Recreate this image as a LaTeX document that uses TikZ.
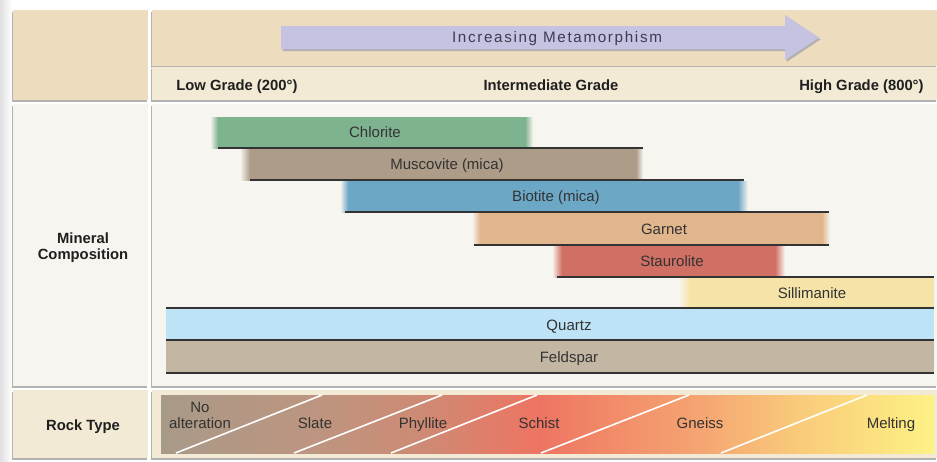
\documentclass[tikz,border=0pt]{standalone}
\usepackage{fontspec}
\setmainfont{Liberation Sans}
\usepackage{tikz}

\definecolor{tanbg}{HTML}{EEDCBF}
\definecolor{creambg}{HTML}{F2EAD5}
\definecolor{midbg}{HTML}{F7F5F0}
\definecolor{chlcol}{HTML}{7EB38F}
\definecolor{muscol}{HTML}{AC9C88}
\definecolor{biocol}{HTML}{6DA7C6}
\definecolor{garcol}{HTML}{E2B68D}
\definecolor{staucol}{HTML}{D06F64}
\definecolor{silcol}{HTML}{F5E3A8}
\definecolor{qtzcol}{HTML}{BEE3F6}
\definecolor{fdscol}{HTML}{C3B7A3}
\definecolor{arrowcol}{HTML}{C6C2E2}
\definecolor{txtgray}{HTML}{333333}
\definecolor{arrowtxt}{HTML}{3C3C50}
\definecolor{rk1}{HTML}{A89A88}
\definecolor{rk2}{HTML}{BD9580}
\definecolor{rk3}{HTML}{CE8A74}
\definecolor{rk4}{HTML}{EE7462}
\definecolor{rk5}{HTML}{F18868}
\definecolor{rk6}{HTML}{F5A572}
\definecolor{rk7}{HTML}{F9CB7A}
\definecolor{rk8}{HTML}{FDF285}

\pgfdeclarehorizontalshading{rockgrad}{100bp}{color(0bp)=(rk1); color(25bp)=(rk1); color(35bp)=(rk2); color(42bp)=(rk3); color(49.5bp)=(rk4); color(53.4bp)=(rk5); color(59.9bp)=(rk6); color(66.3bp)=(rk7); color(75bp)=(rk8); color(100bp)=(rk8)}

\begin{document}
\begin{tikzpicture}[x=0.5pt, y=-0.5pt,
	lbl/.style={text=txtgray, font=\fontsize{7.5}{8}\selectfont, inner sep=0pt, text height=5.3pt, text depth=0pt},
	hdr/.style={text=black!88, font=\fontsize{7.4}{8}\selectfont\bfseries, inner sep=0pt, text height=5.3pt, text depth=0pt},
	twoline/.style={align=center, inner sep=0pt},
	rim/.style={draw=black!80, line width=0.7pt}]

	\useasboundingbox (0,0) rectangle (937,461);
	\fill[white] (0,0) rectangle (937,461);
	\shade[left color=black!12, right color=white] (0,0) rectangle (12,461);

	% panels
	\foreach \xa/\ya/\xb/\yb/\col in {13/10/148/100/tanbg, 152/10/937/66/tanbg, 152/67/937/100/creambg, 13/104/148/386/midbg, 152/104/937/386/midbg, 13/390/148/458/creambg, 152/390/937/458/creambg}{
		\fill[black!30] (\xa-1.5,\ya+1.5) rectangle (\xb-1.5,\yb+1.5);
		\fill[\col] (\xa,\ya) rectangle (\xb,\yb);
	}

	% arrow
	\foreach \dx/\dy/\col in {1.5/2/black!30, 0/0/arrowcol}
		\fill[\col, shift={(\dx,\dy)}] (281,26) -- (785,26) -- (785,15) -- (819,37.5) -- (785,60) -- (785,49) -- (281,49) -- cycle;
	\node[lbl, text=arrowtxt, font={\fontsize{7.6}{8}\selectfont\addfontfeature{LetterSpace=11}}] (metatext) at (557,37.5) {Increasing Metamorphism};

	\node[hdr, anchor=west] (lowgrade) at (176,85) {Low Grade (200°)};
	\node[hdr] (midgrade) at (551,85) {Intermediate Grade};
	\node[hdr, anchor=east] (highgrade) at (924,85) {High Grade (800°)};

	\node[twoline, text=black!88, font=\fontsize{7.4}{8}\selectfont\bfseries] (mineral) at (83,248) {Mineral\\Composition};
	\node[hdr] (rocktype) at (83,425) {Rock Type};

	% mineral bars
	\foreach \xa/\xb/\ya/\yb/\fl/\fr/\col/\lx/\nm/\txt in {210/533/117/148/8/8/chlcol/375/chlorite/Chlorite, 240/643/149/180/10/7/muscol/447/muscovite/{Muscovite (mica)}, 340/748/181/212/8/10/biocol/556/biotite/{Biotite (mica)}, 472/830/213/245/8/8/garcol/664/garnet/Garnet, 552/785/246/277/10/10/staucol/672/staurolite/Staurolite, 678/934/278/308/12/1/silcol/812/sillimanite/Sillimanite}{
		\fill[\col] (\xa+\fl,\ya) rectangle (\xb-\fr,\yb);
		\shade[left color=midbg, right color=\col] (\xa,\ya) rectangle (\xa+\fl,\yb);
		\shade[left color=\col, right color=midbg] (\xb-\fr,\ya) rectangle (\xb,\yb);
		\node[lbl] (\nm) at (\lx,{(\ya+\yb)/2}) {\txt};
	}
	\fill[qtzcol] (166,309) rectangle (934,340);
	\fill[fdscol] (166,341) rectangle (934,373);
	\node[lbl] (quartz) at (569,325) {Quartz};
	\node[lbl] (feldspar) at (569,357) {Feldspar};

	\foreach \y/\xa/\xb in {148/218/643, 180/250/744, 212/345/829, 245/474/829, 277/557/934, 308/166/934, 340/166/934, 373/166/934}
		\draw[rim] (\xa,\y) -- (\xb,\y);

	% rock types
	\shade[shading=rockgrad] (161,395) rectangle (934,453);
	\foreach \xa/\xb in {176/322, 294/442, 391/537, 541/689, 721/867}
		\draw[white, line width=0.8pt] (\xa,453) -- (\xb,395);
	\node[twoline, text=txtgray, font=\fontsize{7.5}{8}\selectfont] (noalter) at (200,415) {No\\alteration};
	\node[lbl] (slate) at (315,423) {Slate};
	\node[lbl] (phyllite) at (423,423) {Phyllite};
	\node[lbl] (schist) at (539,423) {Schist};
	\node[lbl] (gneiss) at (700,423) {Gneiss};
	\node[lbl] (melting) at (891,423) {Melting};
\end{tikzpicture}
\end{document}
